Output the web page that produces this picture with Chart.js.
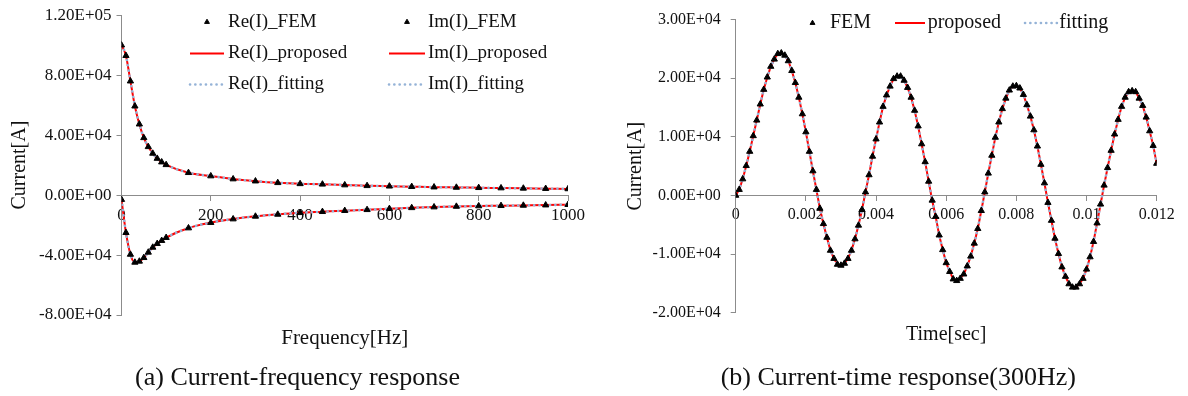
<!DOCTYPE html>
<html><head><meta charset="utf-8">
<script src="https://cdn.jsdelivr.net/npm/chart.js@4.4.1/dist/chart.umd.min.js"></script>
<style>
html,body{margin:0;padding:0;background:#fff;width:1188px;height:396px;overflow:hidden}
#wrapA{position:absolute;left:0;top:0;width:594px;height:396px}
#wrapB{position:absolute;left:594px;top:0;width:594px;height:396px}
canvas{display:block}
</style></head><body>
<div id="wrapA"><canvas id="cA" width="594" height="396"></canvas></div>
<div id="wrapB"><canvas id="cB" width="594" height="396"></canvas></div>
<script>
// ---------- (a) Current-frequency response ----------
const freq = [0,10,20,30,40,50,60,70,80,90,100,150,200,250,300,350,400,450,500,550,600,650,700,750,800,850,900,950,1000];
const reFEM = [100000,93000,76000,59300,47300,38200,32200,27800,24400,22000,20200,14900,12700,10700,9300,8200,7500,7200,6700,6200,5900,5600,5300,5100,4900,4700,4500,4300,4100];
const imFEM = [-3000,-25100,-39600,-44900,-44200,-41800,-38200,-34900,-32400,-30400,-28400,-22000,-18400,-16000,-14200,-12900,-11800,-11100,-10400,-9800,-9100,-8500,-8000,-7600,-7300,-7100,-6900,-6700,-6400];
const freqTicks = [0,200,400,600,800,1000];
const freqTickLabels = ['0','200','400','600','800','1000'];
const curATicks = [-80000,-40000,0,40000,80000,120000];
const curATickLabels = ['-8.00E+04','-4.00E+04','0.00E+00','4.00E+04','8.00E+04','1.20E+05'];

// ---------- (b) Current-time response (300Hz) ----------
const time = [0,0.0001,0.0002,0.0003,0.0004,0.0005,0.0006,0.0007,0.0008,0.0009,
0.001,0.0011,0.0012,0.0013,0.0014,0.0015,0.0016,0.0017,0.0018,0.0019,
0.002,0.0021,0.0022,0.0023,0.0024,0.0025,0.0026,0.0027,0.0028,0.0029,
0.003,0.0031,0.0032,0.0033,0.0034,0.0035,0.0036,0.0037,0.0038,0.0039,
0.004,0.0041,0.0042,0.0043,0.0044,0.0045,0.0046,0.0047,0.0048,0.0049,
0.005,0.0051,0.0052,0.0053,0.0054,0.0055,0.0056,0.0057,0.0058,0.0059,
0.006,0.0061,0.0062,0.0063,0.0064,0.0065,0.0066,0.0067,0.0068,0.0069,
0.007,0.0071,0.0072,0.0073,0.0074,0.0075,0.0076,0.0077,0.0078,0.0079,
0.008,0.0081,0.0082,0.0083,0.0084,0.0085,0.0086,0.0087,0.0088,0.0089,
0.009,0.0091,0.0092,0.0093,0.0094,0.0095,0.0096,0.0097,0.0098,0.0099,
0.01,0.0101,0.0102,0.0103,0.0104,0.0105,0.0106,0.0107,0.0108,0.0109,
0.011,0.0111,0.0112,0.0113,0.0114,0.0115,0.0116,0.0117,0.0118,0.0119,
0.012];
const curFEM = [0,1000,2800,5070,7500,10170,12830,15570,18070,20170,
22000,23230,24170,24280,23900,22950,21280,19230,16730,13900,
10830,7500,4170,1000,-2220,-4830,-7170,-9380,-10770,-11770,
-11930,-11600,-10770,-9380,-7430,-5100,-2430,570,3500,6670,
9610,12500,15170,17120,18620,19900,20330,20330,19620,18400,
16730,14500,11830,8780,5730,2400,-830,-3600,-6770,-9270,
-11500,-13000,-14270,-14550,-14170,-13430,-12050,-10380,-8170,-5670,
-2600,570,3780,6830,9900,12500,14780,16570,17950,18620,
18700,18300,17200,15450,13500,11170,8400,5280,2120,-1220,
-4270,-7330,-9930,-12220,-13830,-15100,-15670,-15670,-15100,-14170,
-12600,-10500,-7880,-4720,-1500,1730,4730,7670,10450,12950,
15170,16730,17670,17830,17670,16570,15330,13330,11000,8500,
5450];
const timeTicks = [0,0.002,0.004,0.006,0.008,0.01,0.012];
const timeTickLabels = ['0','0.002','0.004','0.006','0.008','0.01','0.012'];
const curBTicks = [-20000,-10000,0,10000,20000,30000];
const curBTickLabels = ['-2.00E+04','-1.00E+04','0.00E+00','1.00E+04','2.00E+04','3.00E+04'];

const FONT = "'Liberation Serif', 'Times New Roman', serif";
Chart.defaults.font.family = FONT;
Chart.defaults.color = '#111';

const toXY = (xs, ys) => xs.map((x, i) => ({x: x, y: ys[i]}));

const femStyle = {showLine:false, pointStyle:'triangle', pointRadius:3.6, pointBackgroundColor:'#000', pointBorderColor:'#000', pointBorderWidth:1, borderColor:'#000', backgroundColor:'#000', order:0};
const propStyle = {borderColor:'#FF0000', backgroundColor:'#FF0000', borderWidth:2, pointRadius:0, cubicInterpolationMode:'monotone', order:2};
const fitStyle = {borderColor:'#95B3D7', backgroundColor:'#95B3D7', borderWidth:2.6, borderDash:[0.1,5.2], borderCapStyle:'round', pointRadius:0, cubicInterpolationMode:'monotone', order:1};

const legendPlugin = {
  id: 'xlegend',
  afterDraw(chart, args, opts) {
    if (!opts || !opts.items) return;
    const ctx = chart.ctx;
    ctx.save();
    ctx.font = opts.size + 'px ' + FONT;
    ctx.textBaseline = 'middle';
    ctx.textAlign = 'left';
    opts.items.forEach(it => {
      const ds = chart.data.datasets[it.ds];
      if (ds.showLine === false) {
        ctx.setLineDash([]);
        ctx.lineWidth = 1;
        ctx.lineCap = 'butt';
        ctx.fillStyle = '#000'; ctx.strokeStyle = '#000';
        Chart.helpers.drawPoint(ctx, {pointStyle:'triangle', radius: opts.marker, borderWidth:1}, (it.x0 + it.x1) / 2, it.y);
      } else {
        ctx.beginPath();
        ctx.setLineDash(ds.borderDash || []);
        ctx.lineCap = ds.borderCapStyle || 'butt';
        ctx.strokeStyle = ds.borderColor;
        ctx.lineWidth = ds.borderWidth;
        ctx.moveTo(it.x0, it.y); ctx.lineTo(it.x1, it.y);
        ctx.stroke();
        ctx.setLineDash([]);
      }
      ctx.fillStyle = '#111';
      ctx.fillText(ds.label, it.tx, it.y);
    });
    ctx.restore();
  }
};

function axisCommon(ticksArr, labelsArr, size, pad) {
  return {
    type: 'linear',
    afterBuildTicks: s => { s.ticks = ticksArr.map(v => ({value: v})); },
    ticks: { callback: (v, i) => labelsArr[i], font: {size: size}, padding: pad, autoSkip: false, maxRotation: 0, color: '#111' },
    grid: { display: true, drawOnChartArea: false, drawTicks: true, tickLength: 5, color: '#8c8c8c', lineWidth: 1 },
    border: { display: true, color: '#8c8c8c', width: 1 }
  };
}

// Chart (a)
const xA = Object.assign(axisCommon(freqTicks, freqTickLabels, 17, 5), {min: 0, max: 1000, position: {y: 0}, afterFit: s => { s.height = 0; }});
const yA = Object.assign(axisCommon(curATicks, curATickLabels, 17, 5), {min: -80000, max: 120000, position: 'left', afterFit: s => { s.width = 94.5; },
  title: {display: true, text: 'Current[A]', font: {size: 20}, color: '#111', padding: {top: -19, bottom: 0}}});

new Chart(document.getElementById('cA'), {
  type: 'line',
  data: { datasets: [
    Object.assign({label: 'Re(I)_FEM', data: toXY(freq, reFEM)}, femStyle),
    Object.assign({label: 'Re(I)_proposed', data: toXY(freq, reFEM)}, propStyle),
    Object.assign({label: 'Re(I)_fitting', data: toXY(freq, reFEM)}, fitStyle),
    Object.assign({label: 'Im(I)_FEM', data: toXY(freq, imFEM)}, femStyle),
    Object.assign({label: 'Im(I)_proposed', data: toXY(freq, imFEM)}, propStyle),
    Object.assign({label: 'Im(I)_fitting', data: toXY(freq, imFEM)}, fitStyle)
  ]},
  options: {
    responsive: false, animation: false, devicePixelRatio: 1,
    layout: { padding: {left: 27, right: 26, top: 15, bottom: 2.4} },
    scales: { x: xA, y: yA },
    plugins: {
      legend: {display: false}, tooltip: {enabled: false},
      subtitle: {display: true, text: 'Frequency[Hz]', position: 'bottom', fullSize: false, font: {size: 21, weight: 'normal'}, color: '#111', padding: {top: 10.4, bottom: 0}},
      title: {display: true, text: '(a) Current-frequency response', position: 'bottom', font: {size: 26, weight: 'normal'}, color: '#111', padding: {top: 11.8, bottom: 0}},
      xlegend: { size: 19, marker: 2.8, items: [
        {ds: 0, x0: 190, x1: 224, y: 22, tx: 228},
        {ds: 1, x0: 190, x1: 224, y: 53.5, tx: 228},
        {ds: 2, x0: 190, x1: 224, y: 84.5, tx: 228},
        {ds: 3, x0: 389, x1: 425, y: 22, tx: 428},
        {ds: 4, x0: 389, x1: 425, y: 53.5, tx: 428},
        {ds: 5, x0: 389, x1: 425, y: 84.5, tx: 428}
      ]}
    }
  },
  plugins: [legendPlugin]
});

// Chart (b)
const xB = Object.assign(axisCommon(timeTicks, timeTickLabels, 16, 5), {min: 0, max: 0.012, position: {y: 0}, afterFit: s => { s.height = 0; }});
const yB = Object.assign(axisCommon(curBTicks, curBTickLabels, 16, 10), {min: -20000, max: 30000, position: 'left', afterFit: s => { s.width = 95.8; },
  title: {display: true, text: 'Current[A]', font: {size: 20}, color: '#111', padding: {top: -15.9, bottom: 0}}});

new Chart(document.getElementById('cB'), {
  type: 'line',
  data: { datasets: [
    Object.assign({label: 'FEM', data: toXY(time, curFEM)}, femStyle),
    Object.assign({label: 'proposed', data: toXY(time, curFEM)}, propStyle, {cubicInterpolationMode: 'default', tension: 0}),
    Object.assign({label: 'fitting', data: toXY(time, curFEM)}, fitStyle, {cubicInterpolationMode: 'default', tension: 0})
  ]},
  options: {
    responsive: false, animation: false, devicePixelRatio: 1,
    layout: { padding: {left: 45.9, right: 31.3, top: 13.3, bottom: 2.4} },
    scales: { x: xB, y: yB },
    plugins: {
      legend: {display: false}, tooltip: {enabled: false},
      subtitle: {display: true, text: 'Time[sec]', position: 'bottom', fullSize: false, font: {size: 20, weight: 'normal'}, color: '#111', padding: {top: 10.3, bottom: 0}},
      title: {display: true, text: '(b) Current-time response(300Hz)', position: 'bottom', font: {size: 26, weight: 'normal'}, color: '#111', padding: {top: 15.4, bottom: 0}},
      xlegend: { size: 20, marker: 2.8, items: [
        {ds: 0, x0: 203, x1: 234, y: 23, tx: 236},
        {ds: 1, x0: 301, x1: 331, y: 23, tx: 333.7},
        {ds: 2, x0: 431, x1: 463, y: 23, tx: 465.3}
      ]}
    }
  },
  plugins: [legendPlugin]
});
</script>
</body></html>
